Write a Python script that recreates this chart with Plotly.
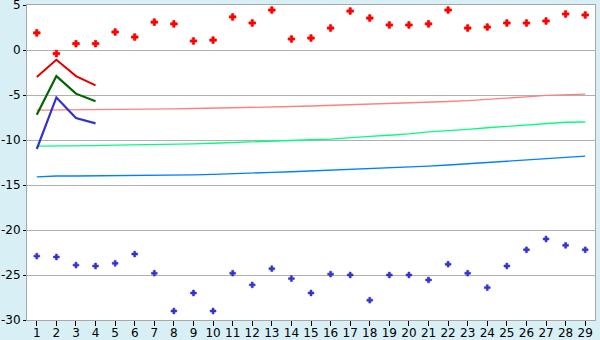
import plotly.graph_objects as go

x = list(range(1, 30))
x_short = [1, 2, 3, 4]

red_points = [1.9, -0.4, 0.7, 0.7, 2.0, 1.44, 3.1, 2.9, 1.0, 1.1, 3.67, 3.0, 4.44, 1.22, 1.33,
              2.44, 4.33, 3.55, 2.78, 2.78, 2.9, 4.44, 2.44, 2.55, 3.0, 3.0, 3.22, 4.0, 3.89]
blue_points = [-22.9, -23.0, -23.9, -24.0, -23.7, -22.67, -24.8, -29.0, -27.0, -29.0, -24.8, -26.1,
               -24.3, -25.4, -27.0, -24.9, -25.0, -27.8, -25.0, -25.0, -25.55, -23.8, -24.8, -26.4,
               -24.0, -22.2, -21.0, -21.7, -22.2]

red_line = [-3.0, -1.08, -2.9, -3.93]
green_line = [-7.2, -2.9, -4.85, -5.7]
blue_line = [-11.0, -5.27, -7.56, -8.15]

pink_trend = [-6.67, -6.66, -6.65, -6.64, -6.62, -6.6, -6.58, -6.55, -6.5, -6.47, -6.44, -6.38,
              -6.34, -6.28, -6.22, -6.16, -6.08, -6.02, -5.97, -5.9, -5.82, -5.72, -5.62, -5.5,
              -5.38, -5.2, -5.05, -4.98, -4.9]
green_trend = [-10.67, -10.67, -10.66, -10.62, -10.58, -10.56, -10.52, -10.47, -10.42, -10.36,
               -10.28, -10.16, -10.05, -10.0, -9.97, -9.9, -9.72, -9.6, -9.47, -9.33, -9.1,
               -8.98, -8.82, -8.64, -8.5, -8.36, -8.18, -8.03, -8.0]
blue_trend = [-14.1, -14.0, -14.0, -13.99, -13.97, -13.95, -13.93, -13.9, -13.87, -13.82, -13.77,
              -13.7, -13.6, -13.53, -13.45, -13.37, -13.28, -13.17, -13.06, -12.97, -12.9, -12.78,
              -12.6, -12.5, -12.36, -12.2, -12.05, -11.93, -11.8]

y_ticks = [5, 0, -5, -10, -15, -20, -25, -30]
y_tick_text = ["5", "0", "-5", "-10", "-15", "-20", "-25", "-30"]

fig = go.Figure()

fig.add_trace(go.Scatter(x=x, y=pink_trend, mode="lines", line=dict(color="#FF8080", width=1.3)))
fig.add_trace(go.Scatter(x=x, y=green_trend, mode="lines", line=dict(color="#00FF80", width=1.3)))
fig.add_trace(go.Scatter(x=x, y=blue_trend, mode="lines", line=dict(color="#0080FF", width=1.3)))

fig.add_trace(go.Scatter(x=x_short, y=red_line, mode="lines", line=dict(color="#E00000", width=2)))
fig.add_trace(go.Scatter(x=x_short, y=green_line, mode="lines", line=dict(color="#006600", width=2.2)))
fig.add_trace(go.Scatter(x=x_short, y=blue_line, mode="lines", line=dict(color="#3333CC", width=2.2)))

fig.add_trace(go.Scatter(x=x, y=red_points, mode="markers",
                         marker=dict(symbol="cross", size=5.5, color="#FF0000",
                                     line=dict(width=0.8, color="#FF0000"))))
fig.add_trace(go.Scatter(x=x, y=blue_points, mode="markers",
                         marker=dict(symbol="cross", size=4.8, color="#3333CC",
                                     line=dict(width=0.6, color="#3333CC"))))

fig.update_layout(
    width=600, height=340,
    margin=dict(l=27, r=5, t=5, b=20, autoexpand=False),
    paper_bgcolor="#D9EFF6",
    plot_bgcolor="#FFFFFF",
    showlegend=False,
    hovermode=False,
    font=dict(family="DejaVu Sans", size=12, color="#000000"),
)
fig.update_xaxes(
    range=[0.5, 29.5], tickvals=x, ticktext=[str(v) for v in x],
    showgrid=False, zeroline=False, automargin=False,
    showline=True, linecolor="#A8A8A8", linewidth=1, mirror=True,
    ticks="outside", ticklen=5, tickcolor="#000000", tickwidth=1,
    tickfont=dict(size=12), ticklabelstandoff=-3, ticklabeloverflow="allow",
)
fig.update_yaxes(
    range=[-30, 5], tickvals=y_ticks, ticktext=y_tick_text,
    showgrid=True, gridcolor="#B0B0B0", gridwidth=1, zeroline=False, automargin=False,
    showline=True, linecolor="#A8A8A8", linewidth=1, mirror=True,
    ticks="outside", ticklen=3, tickcolor="#000000", tickwidth=1,
    tickfont=dict(size=12), ticklabeloverflow="allow", ticklabelstandoff=0,
)

fig.write_html("out.html")
